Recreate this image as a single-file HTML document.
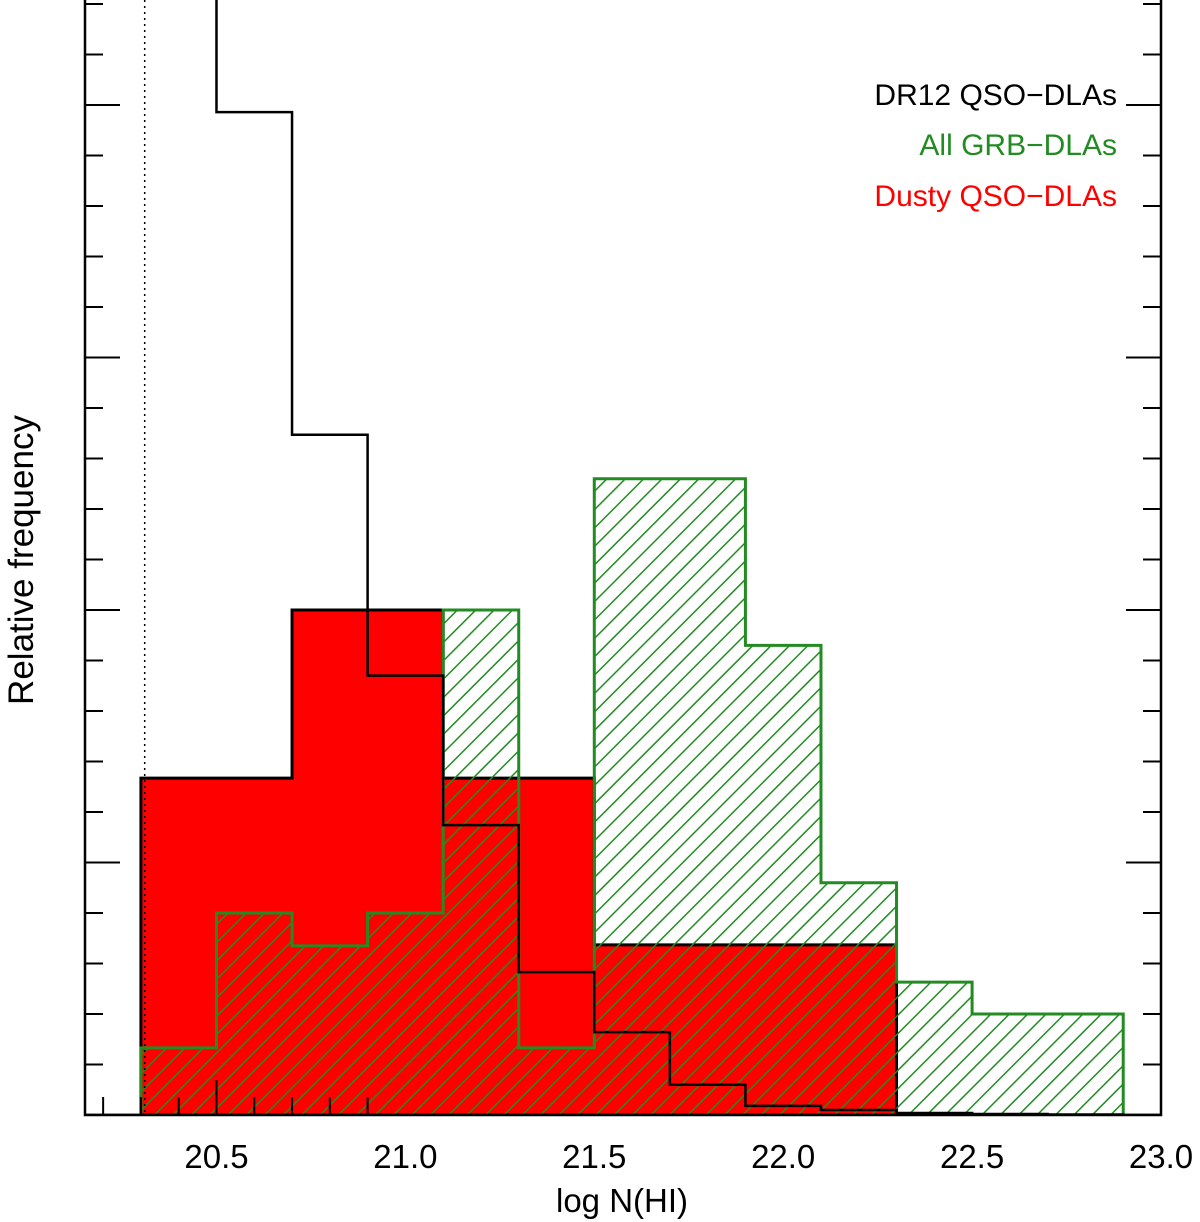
<!DOCTYPE html>
<html><head><meta charset="utf-8"><style>body{margin:0;background:#fff}svg{display:block}</style></head>
<body>
<svg id="chart" width="1200" height="1222" viewBox="0 0 1200 1222" font-family="Liberation Sans, sans-serif">
<defs>
<pattern id="hatch" patternUnits="userSpaceOnUse" width="13" height="13" patternTransform="rotate(45)">
<line x1="0" y1="0" x2="0" y2="13" stroke="#228b22" stroke-width="3"/>
</pattern>
<clipPath id="plotclip"><rect x="85" y="0" width="1076" height="1116"/></clipPath>
</defs>
<g id="marks" clip-path="url(#plotclip)"></g>
<g id="axes"></g>
</svg>
<script>
const binEdges=[20.3,20.5,20.7,20.9,21.1,21.3,21.5,21.7,21.9,22.1,22.3,22.5,22.7,22.9,23.1];
const dustyQSO=[6.67,6.67,10,10,6.67,6.67,3.37,3.37,3.37,3.37,0,0,0,0];
const allGRB=[1.33,4,3.35,4,10,1.33,12.6,12.6,9.3,4.6,2.63,2,2,0];
const dr12QSO=[30,19.86,13.47,8.7,5.74,2.83,1.64,0.6,0.18,0.1,0.04,0.02,0.01,0.01];
const xTickLabels=[20.5,21.0,21.5,22.0,22.5,23.0];
const xMin=20.152,xMax=23.0,yUnit=50.5;
const X0=85,X1=1161,Y0=1115;
const x=v=>X0+(v-xMin)*(X1-X0)/(xMax-xMin);
const y=v=>Y0-v*yUnit;
const NS="http://www.w3.org/2000/svg";
const marks=document.getElementById('marks'),axes=document.getElementById('axes');
function mk(tag,attrs,parent){const e=document.createElementNS(NS,tag);for(const k in attrs)e.setAttribute(k,attrs[k]);parent.appendChild(e);return e;}
function stepPath(vals,n){let d='M'+x(binEdges[0])+','+Y0;for(let i=0;i<n;i++){d+=' L'+x(binEdges[i])+','+y(vals[i])+' L'+x(binEdges[i+1])+','+y(vals[i]);}d+=' L'+x(binEdges[n])+','+Y0;return d;}
let p=mk('path',{d:stepPath(dustyQSO,10)+' Z',fill:'#ff0000',stroke:'#000','stroke-width':3},marks);


p=mk('path',{d:stepPath(allGRB,13)+' Z',fill:'url(#hatch)',stroke:'none'},marks);


p=mk('path',{d:'M'+X0+','+Y0+' '+stepPath(allGRB,13).slice(1)+' L'+X1+','+Y0,fill:'none',stroke:'#228b22','stroke-width':3},marks);


p=mk('path',{d:stepPath(dr12QSO,13).replace(/^M[^L]*/,'M'+x(binEdges[0])+','+y(dr12QSO[0])+' '),fill:'none',stroke:'#000','stroke-width':2.5},marks);


p=mk('line',{x1:x(20.31),x2:x(20.31),y1:0,y2:Y0,stroke:'#000','stroke-width':1.5,'stroke-dasharray':'2,4'},marks);


p=mk('path',{d:`M${X0},0 L${X0},${Y0} L${X1},${Y0} L${X1},0`,fill:'none',stroke:'#000','stroke-width':2.5},axes);


for(let k=22;k<=29;k++){const v=k/10+18;const major=(k%5===0);const L=major?35:18;
 mk('line',{x1:x(v),x2:x(v),y1:Y0,y2:Y0-L,stroke:'#000','stroke-width':2},axes);}
xTickLabels.forEach(v=>{const t=mk('text',{x:x(v),y:1168,'text-anchor':'middle','font-size':33},axes);t.textContent=v.toFixed(1);

});
for(let k=1;k<=22;k++){const major=k%5===0;const L=major?35:18;const yy=y(k);
 mk('line',{x1:X0,x2:X0+L,y1:yy,y2:yy,stroke:'#000','stroke-width':2},axes);
 mk('line',{x1:X1,x2:X1-L,y1:yy,y2:yy,stroke:'#000','stroke-width':2},axes);}
let t=mk('text',{x:622,y:1212,'text-anchor':'middle','font-size':33},axes);t.textContent='log N(HI)';


t=mk('text',{x:0,y:0,'text-anchor':'middle','font-size':35,transform:'translate(33,560) rotate(-90)'},axes);t.textContent='Relative frequency';


const leg=[['DR12 QSO\u2212DLAs','#000',105],['All GRB\u2212DLAs','#228b22',155],['Dusty QSO\u2212DLAs','#ff0000',206]];
leg.forEach(l=>{const e=mk('text',{x:1117,y:l[2],'text-anchor':'end','font-size':30,fill:l[1]},axes);e.textContent=l[0];

});
</script>
</body></html>
